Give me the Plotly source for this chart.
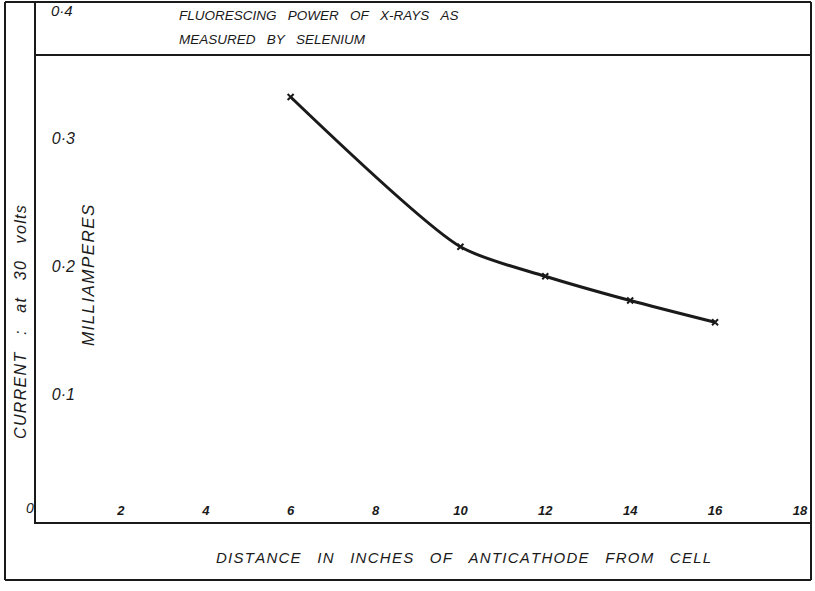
import plotly.graph_objects as go

# distance of anticathode from cell (inches) and selenium current (mA)
distance = [6, 10, 12, 14, 16]
current = [0.332, 0.215, 0.192, 0.173, 0.156]

x_ticks = [2, 4, 6, 8, 10, 12, 14, 16, 18]
x_ticktext = ['2', '4', '6', '8', '10', '12', '14', '16', '18']
y_ticks = [0.1, 0.2, 0.3]
y_ticktext = ['0·1', '0·2', '0·3']
y_top_tick, y_top_text = 0.4, '0·4'

W, H = 815, 591
L, R, T, B = 36, 4, 2, 69
ink = '#1a1a1a'
hand = dict(family='Liberation Sans', color=ink, style='italic')
sp = '\u00a0'


def px(x):
    return (x - L) / (W - L - R)


def py(y):
    return (H - B - y) / (H - T - B)


def track(s, gap=3, loose=True):
    # hand lettering: loose letters, wide gaps between words
    words = s.split(' ')
    if loose:
        words = ['\u200a'.join(w) for w in words]
    return (sp * gap).join(words)


fig = go.Figure()
fig.add_trace(go.Scatter(
    x=distance, y=current,
    mode='lines+markers',
    line=dict(color=ink, width=3, shape='spline', smoothing=0.7),
    marker=dict(symbol='x-thin', size=6, line=dict(width=2, color=ink), color=ink),
    showlegend=False,
))

# frame lines of the hand-drawn sheet
frame = [
    (5, 2, 811, 2), (5, 2, 5, 580), (5, 580, 811, 580), (811, 2, 811, 580),
    (36, 55, 811, 55),
]
for x0, y0, x1, y1 in frame:
    fig.add_shape(type='line', xref='paper', yref='paper',
                  x0=px(x0), y0=py(y0), x1=px(x1), y1=py(y1),
                  line=dict(color=ink, width=2))


def note(x, y, text, size, xanchor='center', **kw):
    fig.add_annotation(xref='paper', yref='paper', x=px(x), y=py(y), text=text,
                       showarrow=False, xanchor=xanchor, yanchor='middle',
                       font=dict(size=size, **hand), **kw)


note(177, 15, track('FLUORESCING POWER OF X-RAYS AS', 3, False), 13.5, xanchor='left')
note(177, 40, track('MEASURED BY SELENIUM', 3, False), 13.5, xanchor='left')
note(463, 557, track('DISTANCE IN INCHES OF ANTICATHODE FROM CELL', 4), 15)
note(20, 322, track('CURRENT : at 30 volts', 4), 16, textangle=-90)
note(88, 275, track('MILLIAMPERES'), 17, textangle=-90)
note(30, 508, '0', 14)

# top tick label sits in the title strip, above the plotting edge
fig.add_annotation(xref='paper', yref='y', x=px(62), y=y_top_tick, text=y_top_text,
                   showarrow=False, xanchor='center', yanchor='middle',
                   font=dict(size=15, **hand))

fig.update_layout(
    width=W, height=H, autosize=False,
    margin=dict(l=L, r=R, t=T, b=B),
    paper_bgcolor='white', plot_bgcolor='white',
    xaxis=dict(range=[0, (W - L - R) / 42.44], tickvals=x_ticks, ticktext=x_ticktext,
               ticklabelposition='inside', ticks='', showgrid=False, zeroline=False,
               showline=True, linecolor=ink, linewidth=2, ticklabelstandoff=4,
               tickfont=dict(size=13, weight='bold', **hand)),
    yaxis=dict(range=[0, (H - T - B) / 1280], tickvals=y_ticks, ticktext=y_ticktext,
               ticklabelposition='inside', ticks='', showgrid=False, zeroline=False,
               showline=True, linecolor=ink, linewidth=2, ticklabelstandoff=16,
               tickfont=dict(size=16, **hand)),
)

# the page body has a default 8px margin; drop it so the sheet fills the window
fig.write_html('out.html', config={'displayModeBar': False},
               post_script="document.body.style.margin='0px';")
